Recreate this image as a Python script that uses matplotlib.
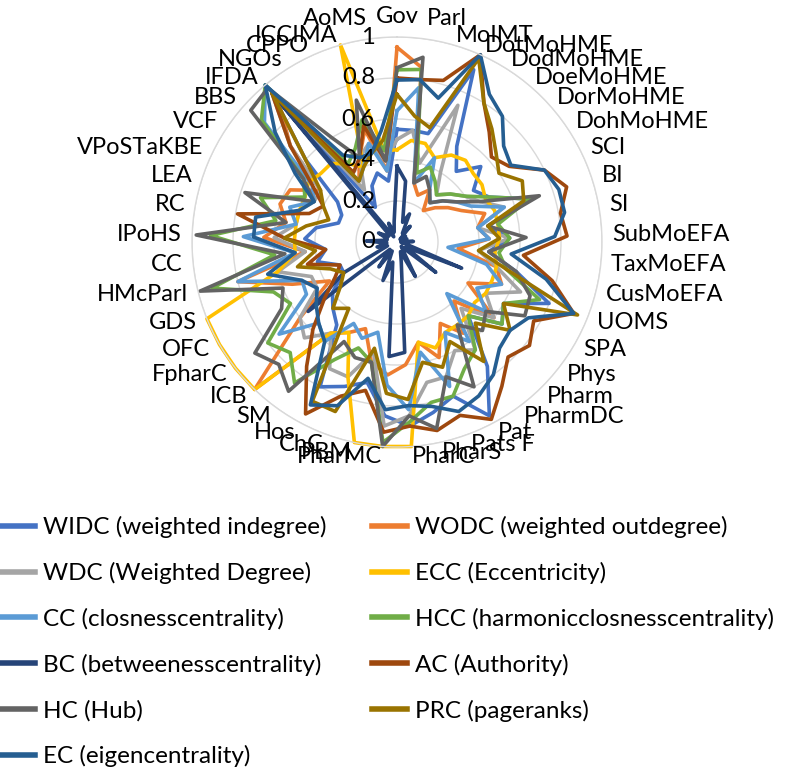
import numpy as np
import matplotlib
matplotlib.use("Agg")
import matplotlib.pyplot as plt

plt.rcParams['font.family'] = ['Lato', 'DejaVu Sans']

categories = ["Gov", "Parl", "MoIMT", "DotMoHME", "DodMoHME", "DoeMoHME", "DorMoHME",
              "DohMoHME", "SCI", "BI", "SI", "SubMoEFA", "TaxMoEFA", "CusMoEFA", "UOMS",
              "SPA", "Phys", "Pharm", "PharmDC", "Pat", "Pats F", "PharS", "PharC",
              "PharMC", "PBM", "ChC", "Hos", "SM", "ICB", "FpharC", "OFC", "GDS",
              "HMcParl", "CC", "IPoHS", "RC", "LEA", "VPoSTaKBE", "VCF", "BBS", "IFDA",
              "NGOs", "CPPO", "ICCIMA", "AoMS"]

series_names = ["WIDC (weighted indegree)", "WODC (weighted outdegree)",
                "WDC (Weighted Degree)", "ECC (Eccentricity)",
                "CC (closnesscentrality)", "HCC (harmonicclosnesscentrality)",
                "BC (betweenesscentrality)", "AC (Authority)", "HC (Hub)",
                "PRC (pageranks)", "EC (eigencentrality)"]

colors = ["#4472C4", "#ED7D31", "#A5A5A5", "#FFC000", "#5B9BD5", "#70AD47",
          "#264478", "#9E480E", "#636363", "#997300", "#255E91"]

WIDC = [0.55, 0.55, 0.55, 0.92, 0.55, 0.45, 0.55, 0.45, 0.50, 0.68, 0.45, 0.55, 0.45,
        0.60, 0.80, 0.60, 0.65, 0.50, 0.75, 0.96, 0.80, 0.85, 0.90, 0.85, 0.70, 0.75,
        0.80, 0.50, 0.45, 0.40, 0.30, 0.30, 0.40, 0.35, 0.45, 0.40, 0.30, 0.30, 0.35,
        0.60, 0.95, 0.20, 0.30, 0.35, 0.30]
WODC = [0.95, 0.86, 0.30, 0.25, 0.30, 0.20, 0.25, 0.30, 0.35, 0.45, 0.40, 0.45, 0.30,
        0.50, 0.55, 0.40, 0.60, 0.40, 0.55, 0.45, 0.60, 0.50, 0.60, 0.65, 0.60, 0.45,
        0.50, 0.55, 1.00, 0.60, 0.38, 0.55, 0.80, 0.45, 0.65, 0.55, 0.60, 0.58, 0.45,
        0.70, 0.90, 0.35, 0.45, 0.57, 0.35]
WDC = [0.50, 0.55, 0.40, 0.73, 0.40, 0.30, 0.35, 0.40, 0.45, 0.55, 0.40, 0.55, 0.40,
       0.50, 0.65, 0.50, 0.60, 0.45, 0.65, 0.60, 0.70, 0.70, 0.85, 0.90, 0.55, 0.70,
       0.70, 0.55, 0.65, 0.60, 0.45, 0.45, 0.60, 0.45, 0.60, 0.50, 0.50, 0.45, 0.45,
       0.70, 0.95, 0.30, 0.45, 0.50, 0.40]
ECC = [0.45, 0.50, 0.50, 0.45, 0.50, 0.52, 0.50, 0.50, 0.48, 0.50, 0.50, 0.50, 0.48,
       0.50, 0.50, 0.50, 0.48, 0.50, 0.50, 0.50, 0.55, 0.50, 1.00, 1.00, 1.00, 0.70,
       0.50, 0.55, 1.00, 1.00, 1.00, 1.00, 0.60, 0.50, 0.50, 0.50, 0.50, 0.50, 0.52,
       0.50, 0.50, 0.45, 0.40, 1.00, 0.45]
CC = [0.64, 0.76, 0.30, 0.45, 0.30, 0.25, 0.30, 0.35, 0.40, 0.55, 0.40, 0.45, 0.25,
      0.45, 0.55, 0.45, 0.55, 0.35, 0.60, 0.50, 0.75, 0.55, 0.82, 0.70, 0.45, 0.50,
      0.45, 0.60, 0.55, 0.73, 0.51, 0.50, 0.80, 0.50, 0.75, 0.50, 0.55, 0.45, 0.50,
      0.87, 1.00, 0.35, 0.40, 0.50, 0.35]
HCC = [0.84, 0.85, 0.35, 0.40, 0.35, 0.30, 0.35, 0.40, 0.50, 0.68, 0.50, 0.55, 0.50,
       0.55, 0.75, 0.60, 0.65, 0.50, 0.65, 0.70, 0.80, 0.80, 0.88, 0.98, 0.60, 0.55,
       0.65, 0.85, 0.75, 0.80, 0.60, 0.65, 0.93, 0.60, 0.91, 0.60, 0.70, 0.50, 0.55,
       0.89, 1.00, 0.45, 0.50, 0.62, 0.45]
BC = [0.37, 0.30, 0.10, 0.15, 0.05, 0.10, 0.02, 0.05, 0.02, 0.05, 0.02, 0.08, 0.02,
      0.05, 0.34, 0.05, 0.24, 0.03, 0.05, 0.19, 0.05, 0.10, 0.54, 0.56, 0.10, 0.20,
      0.05, 0.15, 0.05, 0.55, 0.30, 0.05, 0.10, 0.05, 0.15, 0.05, 0.05, 0.10, 0.05,
      0.05, 0.95, 0.03, 0.10, 0.05, 0.10]
AC = [0.80, 0.80, 0.82, 1.00, 0.80, 0.70, 0.62, 0.66, 0.80, 0.87, 0.81, 0.83, 0.62,
      0.78, 0.93, 0.77, 0.82, 0.78, 0.87, 0.98, 0.90, 0.94, 0.90, 0.93, 0.74, 0.80,
      0.95, 0.75, 0.59, 0.45, 0.35, 0.30, 0.45, 0.35, 0.55, 0.79, 0.45, 0.40, 0.50,
      0.70, 0.95, 0.40, 0.45, 0.59, 0.40]
HC = [0.85, 0.91, 0.30, 0.35, 0.30, 0.25, 0.30, 0.35, 0.45, 0.73, 0.45, 0.63, 0.45,
      0.60, 0.70, 0.72, 0.55, 0.60, 0.50, 0.80, 0.70, 0.93, 0.85, 1.00, 0.60, 0.60,
      0.55, 0.90, 0.83, 0.88, 0.65, 0.60, 0.99, 0.55, 0.98, 0.55, 0.78, 0.45, 0.55,
      0.96, 0.98, 0.60, 0.45, 0.72, 0.40]
PRC = [0.72, 0.62, 0.58, 0.98, 0.80, 0.72, 0.65, 0.60, 0.68, 0.65, 0.45, 0.50, 0.40,
       0.55, 0.95, 0.60, 0.70, 0.55, 0.72, 0.55, 0.65, 0.60, 0.77, 0.74, 0.53, 0.88,
       0.88, 0.40, 0.45, 0.35, 0.30, 0.35, 0.50, 0.40, 0.55, 0.45, 0.35, 0.40, 0.45,
       0.60, 0.95, 0.35, 0.40, 0.45, 0.50]
EC = [0.79, 0.80, 0.73, 1.00, 0.85, 0.80, 0.70, 0.67, 0.80, 0.83, 0.83, 0.77, 0.56,
      0.75, 0.93, 0.74, 0.70, 0.72, 0.80, 0.85, 0.88, 0.82, 0.80, 0.82, 0.68, 0.85,
      0.90, 0.60, 0.55, 0.50, 0.45, 0.50, 0.65, 0.50, 0.70, 0.70, 0.50, 0.45, 0.60,
      0.80, 1.00, 0.50, 0.45, 0.45, 0.55]

all_series = [WIDC, WODC, WDC, ECC, CC, HCC, BC, AC, HC, PRC, EC]
radial_ticks = [0, 0.2, 0.4, 0.6, 0.8, 1.0]
radial_labels = ["0", "0.2", "0.4", "0.6", "0.8", "1"]

W, H = 797, 770
fig = plt.figure(figsize=(W / 100, H / 100), dpi=100)
cx, cy, R = 397, 242, 205
ax = fig.add_axes([(cx - R) / W, (H - cy - R) / H, 2 * R / W, 2 * R / H], projection='polar')
ax.set_theta_zero_location('N')
ax.set_theta_direction(-1)
ax.set_ylim(0, 1)

n = len(categories)
angles = np.arange(n) * 2 * np.pi / n
closed = np.concatenate([angles, angles[:1]])

# grid
ax.set_xticks([])
ax.set_yticks(radial_ticks)
ax.set_yticklabels([])
ax.yaxis.grid(True, color='#D9D9D9', linewidth=1.0)
ax.xaxis.grid(False)
ax.spines['polar'].set_color('#D9D9D9')
ax.spines['polar'].set_linewidth(1.0)
ax.set_facecolor('none')

lines = []
for name, vals, col in zip(series_names, all_series, colors):
    v = np.array(vals + vals[:1])
    ln, = ax.plot(closed, v, color=col, linewidth=2.6, label=name,
                  solid_joinstyle='round', clip_on=False)
    lines.append(ln)

fs = 17
# radial tick labels along the top axis
for t, lab in zip(radial_ticks, radial_labels):
    ax.annotate(lab, xy=(0, t), xytext=(-16, 0), textcoords='offset points',
                ha='right', va='center', fontsize=fs, color='#000000')

# category labels
for a, lab in zip(angles, categories):
    s, c = np.sin(a), np.cos(a)
    ha = 'center' if abs(s) < 0.02 else ('left' if s > 0 else 'right')
    if c > 0.99:
        va = 'bottom'
    elif c < -0.999:
        va = 'top'
    else:
        va = 'center'
    ax.text(a, 1.05, lab, ha=ha, va=va, fontsize=fs, color='#000000', clip_on=False)

# legend (row-major in two columns)
lfs = 17.5
order = [0, 2, 4, 6, 8, 10, 1, 3, 5, 7, 9]
leg = fig.legend([lines[i] for i in order], [series_names[i] for i in order],
                 ncol=2, loc='upper left', bbox_to_anchor=(0.0, 1 - 516 / H),
                 frameon=False, fontsize=lfs, handlelength=1.45, handletextpad=0.3,
                 labelspacing=0.98, columnspacing=1.9, borderpad=0, borderaxespad=0)
for h in leg.legend_handles:
    h.set_linewidth(4)

fig.savefig("out.png", dpi=100)
